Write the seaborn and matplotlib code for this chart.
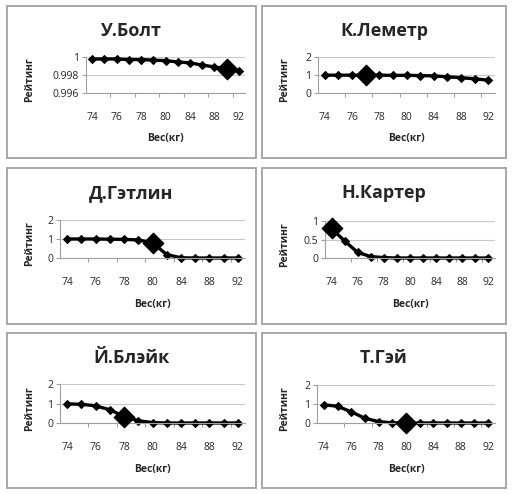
import numpy as np
import pandas as pd
import matplotlib
matplotlib.use('Agg')
import matplotlib.pyplot as plt
import seaborn as sns
from matplotlib.patches import Rectangle

# weight categories (category axis, not numeric)
weights = [74, 75, 76, 77, 78, 79, 80, 82, 84, 86, 88, 90, 92]

bolt = [0.99978, 0.99978, 0.99978, 0.99972, 0.99972, 0.99965, 0.9996,
        0.99945, 0.99935, 0.9991, 0.9989, 0.9987, 0.99844]
lemetr = [0.99, 0.99, 0.99, 0.99, 0.99, 0.98, 0.98, 0.97, 0.95, 0.9, 0.85, 0.79, 0.71]
gatlin = [1.0, 1.0, 1.0, 0.99, 0.98, 0.95, 0.8, 0.18, 0.01, 0.0, 0.0, 0.0, 0.0]
carter = [0.8, 0.46, 0.15, 0.04, 0.01, 0.0, 0.0, 0.0, 0.0, 0.0, 0.0, 0.0, 0.0]
blake = [0.98, 0.96, 0.88, 0.68, 0.33, 0.12, 0.02, 0.0, 0.0, 0.0, 0.0, 0.0, 0.0]
gay = [0.96, 0.88, 0.59, 0.25, 0.07, 0.01, 0.0, 0.0, 0.0, 0.0, 0.0, 0.0, 0.0]

names = ['У.Болт', 'К.Леметр', 'Д.Гэтлин', 'Н.Картер', 'Й.Блэйк', 'Т.Гэй']
series = [bolt, lemetr, gatlin, carter, blake, gay]
# index of the highlighted (actual weight) point
highlight = [11, 3, 6, 0, 4, 6]

y_ticks = {
    'У.Болт': ([0.996, 0.998, 1.0], ['0.996', '0.998', '1']),
    'Н.Картер': ([0, 0.5, 1], ['0', '0.5', '1']),
}
default_ticks = ([0, 1, 2], ['0', '1', '2'])

W, H = 516, 494
fig = plt.figure(figsize=(W / 100, H / 100), dpi=100)
sns.set_style('white')
plt.rcParams['font.family'] = ['Open Sans', 'DejaVu Sans']

# pixel layout: panel box and plot area (left, top, right, bottom)
panels = [(7, 6, 256, 158), (262, 6, 506, 158),
          (7, 168, 256, 324), (262, 168, 506, 324),
          (7, 333, 256, 488), (262, 333, 506, 488)]
plots = [(86, 57, 245, 93), (318, 57, 495, 93),
         (60, 220, 245, 258), (325, 221, 495, 258),
         (60, 384, 245, 423), (317, 385, 495, 423)]


def fx(x):
    return x / W


def fy(y):
    return 1 - y / H


for name, vals, hi, box, pa in zip(names, series, highlight, panels, plots):
    # panel frame
    fig.patches.append(Rectangle((fx(box[0]), fy(box[3])), fx(box[2] - box[0]),
                                 (box[3] - box[1]) / H, transform=fig.transFigure,
                                 fill=False, edgecolor='#a0a0a0', linewidth=1.3))
    ax = fig.add_axes([fx(pa[0]), fy(pa[3]), fx(pa[2] - pa[0]), (pa[3] - pa[1]) / H])
    df = pd.DataFrame({'idx': np.arange(len(weights)), 'val': vals})
    sns.lineplot(data=df, x='idx', y='val', ax=ax, color='black', linewidth=2.4,
                 marker='D', markersize=4.5, markeredgecolor='black', clip_on=False)
    sns.scatterplot(x=[df['idx'][hi]], y=[df['val'][hi]], ax=ax, marker='D',
                    s=110, color='black', edgecolor='black', zorder=5, clip_on=False)

    ticks, labels = y_ticks.get(name, default_ticks)
    ax.set_ylim(ticks[0], ticks[-1])
    ax.set_yticks(ticks)
    ax.set_yticklabels(labels)
    ax.set_xlim(-0.5, len(weights) - 0.5)
    ax.set_xticks(np.arange(0, len(weights), 2))
    ax.set_xticklabels([str(weights[i]) for i in range(0, len(weights), 2)])
    ax.set_xticks(np.arange(1.5, len(weights), 2), minor=True)
    ax.tick_params(axis='x', which='major', length=0, pad=14, labelsize=7.5)
    ax.tick_params(axis='x', which='minor', length=3, color='#a0a0a0', width=0.8,
                   direction='out', bottom=True)
    ax.tick_params(axis='y', length=3, color='#a0a0a0', width=0.8, pad=2,
                   labelsize=7.5, left=True)
    ax.grid(axis='y', color='#c8c8c8', linewidth=0.8)
    ax.set_axisbelow(True)
    for s in ['top', 'right']:
        ax.spines[s].set_visible(False)
    for s in ['left', 'bottom']:
        ax.spines[s].set_color('#a0a0a0')
        ax.spines[s].set_linewidth(0.8)
    ax.set_xlabel('')
    ax.set_ylabel('')

    # title, axis titles
    cx = (box[0] + box[2]) / 2
    fig.text(fx(cx), fy(box[1] + 25), name, ha='center', va='center',
             fontsize=13, fontweight='bold')
    fig.text(fx((pa[0] + pa[2]) / 2), fy(pa[3] + 46), 'Вес(кг)', ha='center',
             va='center', fontsize=7.5, fontweight='bold')
    fig.text(fx(box[0] + 23), fy((pa[1] + pa[3]) / 2 + 5), 'Рейтинг', ha='center',
             va='center', rotation=90, fontsize=7.5, fontweight='bold')

fig.savefig('out.png', dpi=100, facecolor='white')
